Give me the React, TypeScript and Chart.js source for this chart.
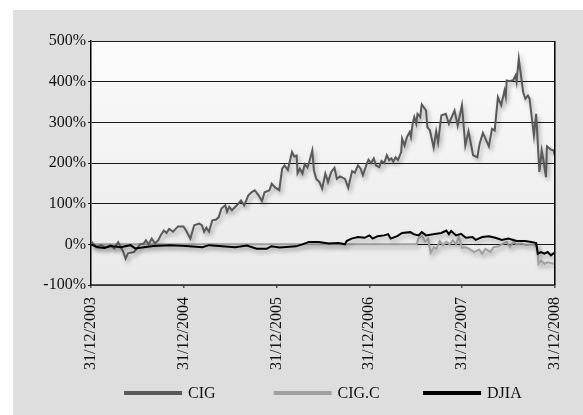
import React, { useEffect, useRef } from "react";
import { Chart, registerables } from "chart.js";

Chart.register(...registerables);

const xTickLabels = ["31/12/2003", "31/12/2004", "31/12/2005", "31/12/2006", "31/12/2007", "31/12/2008"];
const seriesNames = ["CIG", "CIG.C", "DJIA"];

// x = years since 31/12/2003, y = % change
const cigX = [
  0, 0.056, 0.106, 0.159, 0.211, 0.251, 0.293, 0.317, 0.349, 0.373, 0.399, 0.462, 0.497, 0.529, 0.568, 0.592,
  0.621, 0.655, 0.69, 0.726, 0.751, 0.785, 0.814, 0.842, 0.885, 0.938, 0.997, 1.025, 1.071, 1.113, 1.166, 1.195,
  1.219, 1.244, 1.272, 1.308, 1.35, 1.377, 1.406, 1.448, 1.466, 1.49, 1.519, 1.554, 1.589, 1.617, 1.652, 1.695,
  1.73, 1.765, 1.808, 1.843, 1.871, 1.924, 1.948, 1.984, 2.03, 2.061, 2.086, 2.122, 2.167, 2.191, 2.217, 2.227,
  2.252, 2.28, 2.304, 2.333, 2.35, 2.386, 2.403, 2.428, 2.463, 2.492, 2.526, 2.555, 2.59, 2.625, 2.65, 2.685,
  2.738, 2.773, 2.815, 2.844, 2.878, 2.907, 2.931, 2.967, 2.992, 3.02, 3.048, 3.073, 3.108, 3.132, 3.161, 3.189,
  3.214, 3.238, 3.259, 3.284, 3.309, 3.344, 3.354, 3.38, 3.407, 3.436, 3.449, 3.47, 3.485, 3.506, 3.52, 3.549,
  3.566, 3.612, 3.626, 3.654, 3.694, 3.721, 3.742, 3.777, 3.824, 3.858, 3.919, 3.953, 3.999, 4.035, 4.07, 4.119,
  4.165, 4.189, 4.225, 4.289, 4.323, 4.352, 4.387, 4.422, 4.458, 4.471, 4.482, 4.517, 4.553, 4.577, 4.588, 4.612,
  4.659, 4.683, 4.711, 4.728, 4.775, 4.799, 4.834, 4.859, 4.88, 4.905, 4.915, 4.958, 4.986, 5.0,
];
const cigY = [
  8, -7, -2, -7, -2, -10, 5, -5, -19, -35, -22, -19, -10, 0, 2, 10,
  0, 14, 2, 10, 22, 34, 28, 38, 31, 44, 44, 34, 14, 47, 51, 47,
  31, 41, 31, 59, 61, 67, 88, 96, 80, 92, 84, 92, 100, 108, 96, 120,
  128, 133, 120, 106, 128, 133, 149, 140, 133, 186, 194, 183, 227, 216, 218, 175,
  186, 174, 197, 189, 200, 231, 182, 161, 153, 137, 174, 153, 178, 188, 161, 167,
  161, 139, 180, 176, 194, 186, 170, 194, 208, 200, 211, 194, 190, 205, 200, 219,
  207, 211, 203, 214, 207, 227, 260, 243, 264, 276, 264, 300, 313, 297, 321, 313,
  344, 329, 288, 280, 238, 278, 251, 317, 321, 297, 329, 292, 342, 243, 278, 219,
  214, 247, 274, 241, 284, 280, 362, 342, 378, 363, 403, 401, 404, 415, 400, 456,
  374, 358, 366, 358, 268, 321, 178, 231, 203, 165, 241, 233, 231, 219,
];

const cigcX = [
  0, 3.51, 3.531, 3.566, 3.601, 3.636, 3.661, 3.697, 3.724, 3.76, 3.795, 3.83, 3.866, 3.901, 3.936, 3.964,
  3.999, 4.041, 4.077, 4.13, 4.183, 4.218, 4.253, 4.306, 4.341, 4.394, 4.429, 4.482, 4.517, 4.553, 4.588, 4.641,
  4.693, 4.764, 4.81, 4.824, 4.852, 4.887, 4.923, 4.993,
];
const cigcY = [
  0, 0, 14, 22, 6, 14, -21, -7, -11, 8, -2, 6, 0, 10, 0, 18,
  -8, -7, -11, -19, -13, -23, -11, -19, -7, -5, 0, 6, -7, 6, 0, 2,
  -2, 0, -7, -48, -40, -48, -44, -48,
];

const djiaX = [
  0, 0.074, 0.145, 0.215, 0.32, 0.426, 0.476, 0.55, 0.673, 0.849, 1.025, 1.202, 1.272, 1.377, 1.554, 1.681,
  1.786, 1.892, 1.945, 2.033, 2.209, 2.28, 2.35, 2.456, 2.561, 2.667, 2.738, 2.756, 2.809, 2.878, 2.949, 3.002,
  3.037, 3.09, 3.161, 3.203, 3.231, 3.301, 3.354, 3.443, 3.478, 3.531, 3.566, 3.612, 3.689, 3.777, 3.83, 3.858,
  3.883, 3.936, 3.988, 4.041, 4.112, 4.147, 4.218, 4.289, 4.359, 4.429, 4.5, 4.588, 4.676, 4.746, 4.799, 4.817,
  4.852, 4.887, 4.923, 4.958, 4.993,
];
const djiaY = [
  0, -7, -9, -4, -7, -2, -10, -8, -4, -2, -4, -7, -2, -4, -7, -3,
  -11, -11, -5, -8, -5, 0, 6, 6, 2, 3, 0, 8, 14, 18, 16, 22,
  14, 20, 22, 25, 14, 20, 28, 30, 25, 22, 30, 22, 25, 28, 34, 25,
  33, 22, 26, 16, 18, 11, 18, 20, 16, 11, 14, 8, 8, 6, 3, -23,
  -19, -23, -19, -27, -21,
];

const FONT_FAMILY = "'Liberation Serif', 'Times New Roman', serif";

const toPoints = (xs: number[], ys: number[]) => xs.map((x, i) => ({ x, y: ys[i] }));

const bgPlugin = {
  id: "bgPlugin",
  beforeDraw(chart: any) {
    const { ctx, chartArea } = chart;
    if (!chartArea) return;
    const g = ctx.createLinearGradient(0, chartArea.top, 0, chartArea.bottom);
    g.addColorStop(0, "#fbfbfb");
    g.addColorStop(1, "#e9e9e9");
    ctx.save();
    ctx.fillStyle = g;
    ctx.fillRect(chartArea.left, chartArea.top, chartArea.right - chartArea.left, chartArea.bottom - chartArea.top);
    ctx.restore();
  },
  afterDraw(chart: any) {
    const { ctx, chartArea } = chart;
    ctx.save();
    ctx.strokeStyle = "#000";
    ctx.lineWidth = 1.5;
    ctx.beginPath();
    ctx.moveTo(chartArea.right, chartArea.top);
    ctx.lineTo(chartArea.right, chartArea.bottom);
    ctx.stroke();
    ctx.restore();
  },
};

const shadowPlugin = {
  id: "shadowPlugin",
  beforeDatasetsDraw(chart: any) {
    const ctx = chart.ctx;
    ctx.save();
    ctx.shadowColor = "rgba(0,0,0,0.3)";
    ctx.shadowBlur = 4;
    ctx.shadowOffsetX = 2;
    ctx.shadowOffsetY = 3;
  },
  afterDatasetsDraw(chart: any) {
    chart.ctx.restore();
  },
};

// Legend with equal-width slots (line sample + label), drawn below the date labels
const legendPlugin = {
  id: "slotLegend",
  afterDraw(chart: any) {
    const { ctx, chartArea } = chart;
    const lineW = 58;
    const lineH = 4;
    const gap = 6;
    const slot = 149.5;
    const y = 383;
    ctx.save();
    ctx.font = `16px ${FONT_FAMILY}`;
    ctx.textBaseline = "middle";
    ctx.textAlign = "left";
    const ds = chart.data.datasets;
    const lastW = lineW + gap + ctx.measureText(ds[ds.length - 1].label).width;
    const total = slot * (ds.length - 1) + lastW;
    const center = (chartArea.left + chartArea.right) / 2;
    let x = center - total / 2;
    ds.forEach((d: any) => {
      ctx.fillStyle = d.borderColor;
      ctx.fillRect(x, y - lineH / 2, lineW, lineH);
      ctx.fillStyle = "#111";
      ctx.fillText(d.label, x + lineW + gap, y + 1);
      x += slot;
    });
    ctx.restore();
  },
};

export default function App() {
  const ref = useRef<HTMLCanvasElement>(null);

  useEffect(() => {
    const canvas = ref.current;
    if (!canvas) return;
    const font = { family: FONT_FAMILY, size: 16 };
    const chart = new Chart(canvas, {
      type: "line",
      data: {
        datasets: [
          {
            label: seriesNames[0],
            data: toPoints(cigX, cigY),
            borderColor: "#595959",
            backgroundColor: "#595959",
            borderWidth: 2,
            pointRadius: 0,
            order: 1,
          },
          {
            label: seriesNames[1],
            data: toPoints(cigcX, cigcY),
            borderColor: "#a0a0a0",
            backgroundColor: "#a0a0a0",
            borderWidth: 2,
            pointRadius: 0,
            order: 2,
          },
          {
            label: seriesNames[2],
            data: toPoints(djiaX, djiaY),
            borderColor: "#000000",
            backgroundColor: "#000000",
            borderWidth: 2,
            pointRadius: 0,
            order: 0,
          },
        ],
      },
      options: {
        responsive: false,
        animation: false,
        devicePixelRatio: 1,
        layout: { padding: { top: 31, right: 19, bottom: 0, left: 0 } },
        scales: {
          x: {
            type: "linear",
            min: 0,
            max: 5,
            afterFit: (s: any) => {
              s.height = 130;
            },
            ticks: {
              stepSize: 1,
              autoSkip: false,
              minRotation: 90,
              maxRotation: 90,
              padding: 9,
              color: "#111",
              font,
              callback: (v: any) => xTickLabels[Math.round(Number(v))] ?? "",
            },
            grid: { drawOnChartArea: false, drawTicks: true, tickLength: 3, color: "#555", lineWidth: 1.5 },
            border: { display: true, color: "#555", width: 1.5 },
          },
          y: {
            min: -100,
            max: 500,
            afterFit: (s: any) => {
              s.width = 78;
            },
            ticks: {
              stepSize: 100,
              padding: 2,
              color: "#111",
              font,
              callback: (v: any) => v + "%",
            },
            grid: { color: "#1a1a1a", lineWidth: 1, tickLength: 3 },
            border: { display: true, color: "#000", width: 1.5 },
          },
        },
        plugins: {
          legend: { display: false },
          tooltip: { enabled: false },
        },
      } as any,
      plugins: [bgPlugin, shadowPlugin, legendPlugin],
    });
    return () => chart.destroy();
  }, []);

  return (
    <div style={{ position: "fixed", left: 0, top: 0, width: 583, height: 415, background: "#fff" }}>
      <div style={{ position: "absolute", left: 13, top: 10, width: 570, height: 405, background: "#dedede" }}>
        <canvas ref={ref} width={570} height={405} style={{ display: "block", width: 570, height: 405 }} />
      </div>
    </div>
  );
}
